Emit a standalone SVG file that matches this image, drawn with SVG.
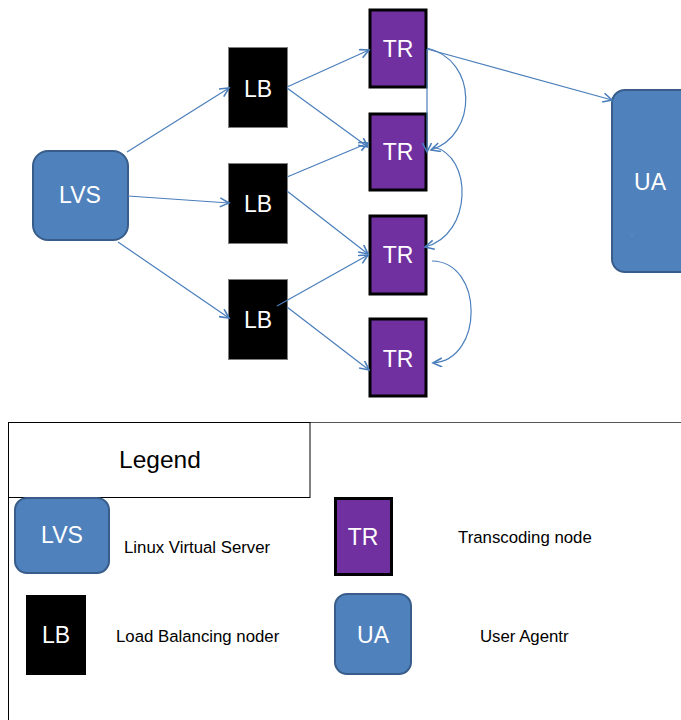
<svg xmlns="http://www.w3.org/2000/svg" width="681" height="720" viewBox="0 0 681 720">
<style>
.lbl{font-family:"Liberation Sans",Arial,sans-serif;fill:#fff;text-anchor:middle;font-size:23px}
.desc{font-family:"Liberation Sans",Arial,sans-serif;fill:#000;font-size:16.8px}
.blue{fill:#4f81bd;stroke:#385d8a;stroke-width:2}
.lb{fill:#000;stroke:#7f7f7f;stroke-width:1}
.tr{fill:#7030a0;stroke:#000;stroke-width:3}
.edge{fill:none;stroke:#4a7ebb;stroke-width:1.2}
</style>
<defs>
<marker id="arr" markerUnits="userSpaceOnUse" markerWidth="12" markerHeight="12" refX="10" refY="5" orient="auto">
<path d="M1,0.5 L10,5 L1,9.5" fill="none" stroke="#4a7ebb" stroke-width="1.6"/>
</marker>
</defs>
<rect width="681" height="720" fill="#fff"/>

<g id="lvs"><rect class="blue" x="33" y="151" width="95" height="89" rx="15"/><text class="lbl" x="80" y="203">LVS</text></g>
<g id="lb1"><rect class="lb" x="228.5" y="47.5" width="59" height="80"/><text class="lbl" x="258" y="97">LB</text></g>
<g id="lb2"><rect class="lb" x="228.5" y="163.5" width="59" height="80"/><text class="lbl" x="258" y="212">LB</text></g>
<g id="lb3"><rect class="lb" x="228.5" y="279.5" width="59" height="80"/><text class="lbl" x="258" y="328">LB</text></g>
<g id="tr1"><rect class="tr" x="370" y="10" width="56" height="77"/><text class="lbl" x="398" y="57">TR</text></g>
<g id="tr2"><rect class="tr" x="370" y="114" width="56" height="76"/><text class="lbl" x="398" y="160">TR</text></g>
<g id="tr3"><rect class="tr" x="370" y="216" width="56" height="78"/><text class="lbl" x="398" y="263">TR</text></g>
<g id="tr4"><rect class="tr" x="370" y="319" width="56" height="77"/><text class="lbl" x="398" y="367">TR</text></g>
<g id="ua"><rect class="blue" x="612" y="90" width="86" height="182" rx="13"/><text class="lbl" x="650" y="190">UA</text>
<path d="M629,232 L632,237 L635,232" fill="none" stroke="#5a8ac4" stroke-width="1"/></g>

<g id="connectors">
<path class="edge" marker-end="url(#arr)" d="M127,152 L229,88"/>
<path class="edge" marker-end="url(#arr)" d="M128,196 L229,203"/>
<path class="edge" marker-end="url(#arr)" d="M118,242 L229,318"/>
<path class="edge" marker-end="url(#arr)" d="M287,87 L369,50"/>
<path class="edge" marker-end="url(#arr)" d="M287,88 L368,147"/>
<path class="edge" marker-end="url(#arr)" d="M287,177 L368,143"/>
<path class="edge" marker-end="url(#arr)" d="M287,191 L368,254"/>
<path class="edge" marker-end="url(#arr)" d="M277,306 L368,255"/>
<path class="edge" marker-end="url(#arr)" d="M287,307 L369,370"/>
<path class="edge" marker-end="url(#arr)" d="M427,49 L612,100"/>
<path class="edge" marker-end="url(#arr)" d="M427,49 L427,152"/>
<path class="edge" marker-end="url(#arr)" d="M427,48 C478,60 478,135 431,150"/>
<path class="edge" marker-end="url(#arr)" d="M433,147 C473,155 473,235 425,247"/>
<path class="edge" marker-end="url(#arr)" d="M432,261 C484,262 484,360 433,363"/>
</g>

<g id="legend">
<path d="M8,422.5 H681" stroke="#555" stroke-width="1.2" fill="none"/>
<path d="M8.5,422 V720" stroke="#000" stroke-width="1" fill="none"/>
<rect x="8.5" y="422.5" width="301.5" height="75" fill="#fff" stroke="#000" stroke-width="1"/>
<text x="160" y="468" font-family="'Liberation Sans',Arial,sans-serif" font-size="24.5" text-anchor="middle">Legend</text>
<g id="leg-lvs"><rect class="blue" x="15" y="498" width="94" height="75" rx="12"/><text class="lbl" x="62" y="543">LVS</text></g>
<text class="desc" x="124" y="553">Linux Virtual Server</text>
<g id="leg-tr"><rect class="tr" x="335.5" y="498.5" width="56" height="76"/><text class="lbl" x="363" y="545">TR</text></g>
<text class="desc" x="458" y="543">Transcoding node</text>
<g id="leg-lb"><rect x="26" y="595" width="60" height="80" fill="#000"/><text class="lbl" x="56" y="643">LB</text></g>
<text class="desc" x="116" y="642">Load Balancing noder</text>
<g id="leg-ua"><rect class="blue" x="335" y="594" width="76" height="80" rx="12"/><text class="lbl" x="373" y="643">UA</text></g>
<text class="desc" x="480" y="642">User Agentr</text>
</g>
</svg>
